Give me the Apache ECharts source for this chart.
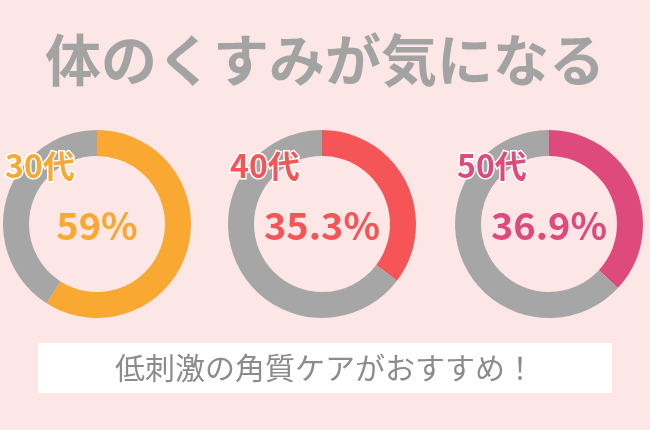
<!DOCTYPE html>
<html><head><meta charset="utf-8">
<script src="https://cdn.jsdelivr.net/npm/echarts@6/dist/echarts.min.js"></script>
<style>html,body{margin:0;padding:0;background:#fde6e6}#c{width:650px;height:430px}</style>
</head><body><div id="c"></div>
<script>
const ages = ['30代','40代','50代'];
const values = [59, 35.3, 36.9];
const labels = ['59%','35.3%','36.9%'];
const colors = ['#f9a832','#f55556','#df4a7c'];
const centersX = [97, 322, 549];
const font = '"Noto Sans CJK JP", sans-serif';
const chart = echarts.init(document.getElementById('c'));
const series = values.map((v,i)=>({
  type:'pie', radius:[68,94], center:[centersX[i],224], startAngle:90, clockwise:true, z:1,
  silent:true, label:{show:false}, labelLine:{show:false},
  data:[{value:v,itemStyle:{color:colors[i]}},{value:100-v,itemStyle:{color:'#a6a6a6'}}]
}));
const graphic = [
  {type:'text',left:'center',top:32,z:10,style:{text:'体のくすみが気になる',font:'bold 56px '+font,fill:'#a3a3a3',shadowColor:'#ffffff',shadowOffsetX:3,shadowOffsetY:3,shadowBlur:0}},
  {type:'rect',shape:{x:38,y:343,width:574,height:50},style:{fill:'#ffffff'}},
  {type:'text',x:325,y:368,z:10,style:{text:'低刺激の角質ケアがおすすめ！',font:'30px '+font,fill:'#8c8c8c',align:'center',verticalAlign:'middle'}}
];
ages.forEach((a,i)=>{
  graphic.push({type:'text',x:centersX[i]-92,y:166,z:100,style:{text:a,font:'bold 32px '+font,fill:colors[i],verticalAlign:'middle',stroke:'#fff',lineWidth:3}});
  graphic.push({type:'text',x:centersX[i],y:226,z:100,style:{text:labels[i],font:'bold 38px '+font,fill:colors[i],align:'center',verticalAlign:'middle'}});
});
chart.setOption({backgroundColor:'#fde6e6',animation:false,series,graphic});
</script></body></html>
